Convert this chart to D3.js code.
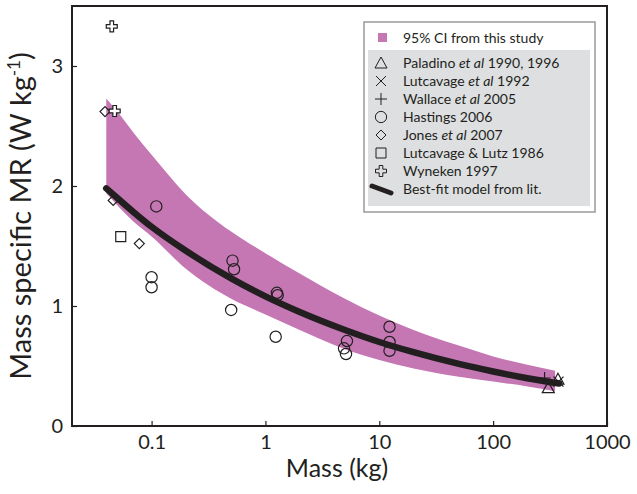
<!DOCTYPE html>
<html><head><meta charset="utf-8">
<script src="https://cdn.jsdelivr.net/npm/d3@7"></script>
<style>body{margin:0;background:#fff} svg{display:block}</style>
</head><body><svg id="c" width="637" height="494"></svg>
<script>
// ---- data ----
const bandMass  = [0.04, 0.05, 0.07, 0.1, 0.2, 0.5, 1, 2, 5, 10, 20, 50, 100, 200, 350];
const bandUpper = [2.73, 2.62, 2.44, 2.26, 1.93, 1.62, 1.44, 1.27, 1.06, 0.92, 0.80, 0.67, 0.58, 0.51, 0.46];
const bandLower = [1.94, 1.84, 1.70, 1.58, 1.31, 1.06, 0.93, 0.80, 0.64, 0.55, 0.48, 0.41, 0.37, 0.33, 0.29];
const fitMass  = [0.04, 0.05, 0.07, 0.1, 0.2, 0.5, 1, 2, 5, 10, 20, 50, 100, 200, 380];
const fitValue = [1.98, 1.90, 1.78, 1.66, 1.46, 1.23, 1.08, 0.95, 0.80, 0.70, 0.615, 0.517, 0.454, 0.398, 0.354];
const paladino  = [[305, 0.32], [371, 0.39]];
const lutcavage = [[375, 0.37]];
const wallace   = [[283, 0.40]];
const hastings  = [[0.1, 1.24], [0.1, 1.156], [0.11, 1.83], [0.514, 1.378], [0.53, 1.306], [0.50, 0.967],
                   [1.26, 1.11], [1.28, 1.09], [1.23, 0.744], [5.2, 0.708], [4.9, 0.647], [5.1, 0.60],
                   [12.3, 0.827], [12.3, 0.70], [12.3, 0.627]];
const jones     = [[0.039, 2.62], [0.046, 1.88], [0.078, 1.52]];
const lutz      = [[0.0536, 1.578]];
const wyneken   = [[0.0447, 3.33], [0.0474, 2.625]];
const xTicks = [0.1, 1, 10, 100, 1000];
const xTickLabels = ["0.1", "1", "10", "100", "1000"];
const yTicks = [0, 1, 2, 3];
const legendBand = "95% CI from this study";
const legendLabels = ["Paladino |et al| 1990, 1996", "Lutcavage |et al| 1992", "Wallace |et al| 2005",
  "Hastings 2006", "Jones |et al| 2007", "Lutcavage & Lutz 1986", "Wyneken 1997", "Best-fit model from lit."];
const legendSymbols = ["triangle", "x", "plus", "circle", "diamond", "square", "wyneken", "line"];

// ---- drawing ----
const INK = "#231f20", PINK = "#c577b3";
const svg = d3.select("#c");
const FONT = "Lato, 'Open Sans', sans-serif";
const x = d3.scaleLog().domain([0.02, 1000]).range([72, 607]);
const y = d3.scaleLinear().domain([0, 3.5]).range([426, 6]);

const band = bandMass.map((m, i) => ({m, u: bandUpper[i], l: bandLower[i]}));
svg.append("path").datum(band)
  .attr("d", d3.area().x(d => x(d.m)).y0(d => y(d.l)).y1(d => y(d.u)).curve(d3.curveMonotoneX))
  .attr("fill", PINK);

const fit = fitMass.map((m, i) => [m, fitValue[i]]);
svg.append("path").datum(fit)
  .attr("d", d3.line().x(d => x(d[0])).y(d => y(d[1])).curve(d3.curveMonotoneX))
  .attr("fill", "none").attr("stroke", INK).attr("stroke-width", 6.5).attr("stroke-linecap", "round");

function sym(kind) {
  switch (kind) {
    case "triangle": return "M0,-6L6,5H-6Z";
    case "x": return "M-5,-5L5,5M5,-5L-5,5";
    case "plus": return "M-6,0H6M0,-6V6";
    case "circle": return d3.symbol(d3.symbolCircle, 100)();
    case "diamond": return "M0,-5L5,0L0,5L-5,0Z";
    case "square": return "M-5,-5H5V5H-5Z";
    case "wyneken": return "M-1.8,-5.5H1.8V-1.8H5.5V1.8H1.8V5.5H-1.8V1.8H-5.5V-1.8H-1.8Z";
  }
}
function drawPts(data, kind) {
  svg.append("g").selectAll("path").data(data).join("path")
    .attr("transform", d => `translate(${x(d[0])},${y(d[1])})`)
    .attr("d", sym(kind))
    .attr("fill", kind === "wyneken" ? "#fff" : "none")
    .attr("stroke", INK).attr("stroke-width", 1.2);
}
drawPts(hastings, "circle");
drawPts(jones, "diamond");
drawPts(lutz, "square");
drawPts(wyneken, "wyneken");
drawPts(wallace, "plus");
drawPts(paladino, "triangle");
drawPts(lutcavage, "x");

// frame
svg.append("rect").attr("x", 72).attr("y", 6).attr("width", 535).attr("height", 420)
  .attr("fill", "none").attr("stroke", INK).attr("stroke-width", 2);

// axes
const xAxis = svg.append("g").attr("transform", "translate(0,426)")
  .call(d3.axisBottom(x).tickValues(xTicks).tickFormat((d, i) => xTickLabels[i]).tickSizeInner(-5).tickSizeOuter(0).tickPadding(9));
xAxis.select(".domain").remove();
xAxis.selectAll("line").attr("stroke", INK).attr("stroke-width", 1.2);
xAxis.selectAll("text").attr("font-family", FONT).attr("font-size", 20).attr("fill", INK);

const yAxis = svg.append("g").attr("transform", "translate(72,0)")
  .call(d3.axisLeft(y).tickValues(yTicks).tickFormat(d3.format("d")).tickSizeInner(-5).tickSizeOuter(0).tickPadding(9));
yAxis.select(".domain").remove();
yAxis.selectAll("line").attr("stroke", INK).attr("stroke-width", 1.2);
yAxis.selectAll("text").attr("font-family", FONT).attr("font-size", 20).attr("fill", INK);

svg.append("text").attr("x", 337).attr("y", 477).attr("text-anchor", "middle")
  .attr("font-family", FONT).attr("font-size", 25).attr("fill", INK).text("Mass (kg)");
const yl = svg.append("text").attr("transform", "translate(31,216) rotate(-90)").attr("text-anchor", "middle")
  .attr("font-family", FONT).attr("font-size", 29).attr("fill", INK);
yl.append("tspan").text("Mass specific MR (W kg");
yl.append("tspan").attr("font-size", 17).attr("dy", -11).text("-1");
yl.append("tspan").attr("dy", 11).text(")");

// legend
const lg = svg.append("g");
lg.append("rect").attr("x", 364).attr("y", 22).attr("width", 231).attr("height", 190)
  .attr("fill", "#fff").attr("stroke", "#9a9a9a").attr("stroke-width", 1.5);
lg.append("rect").attr("x", 368).attr("y", 50).attr("width", 222).attr("height", 156).attr("fill", "#dedfe0");
lg.append("rect").attr("x", 378).attr("y", 33).attr("width", 9).attr("height", 9).attr("fill", PINK);
lg.append("text").attr("x", 403).attr("y", 42.5).attr("font-family", FONT).attr("font-size", 14)
  .attr("fill", INK).text(legendBand);
legendLabels.forEach((lab, i) => {
  const cy = 63 + i * 18;
  const kind = legendSymbols[i];
  if (kind === "line") {
    lg.append("path").attr("d", `M${372},${cy - 3}L${391},${cy + 4}`).attr("stroke", INK)
      .attr("stroke-width", 5).attr("stroke-linecap", "round");
  } else {
    lg.append("path").attr("transform", `translate(381,${cy})`).attr("d", sym(kind))
      .attr("fill", "none").attr("stroke", INK).attr("stroke-width", 1);
  }
  const t = lg.append("text").attr("x", 403).attr("y", cy + 5).attr("font-family", FONT)
    .attr("font-size", 14).attr("fill", INK);
  lab.split("|").forEach((s, j) => {
    t.append("tspan").attr("font-style", j % 2 ? "italic" : "normal").text(s);
  });
});
</script></body></html>
